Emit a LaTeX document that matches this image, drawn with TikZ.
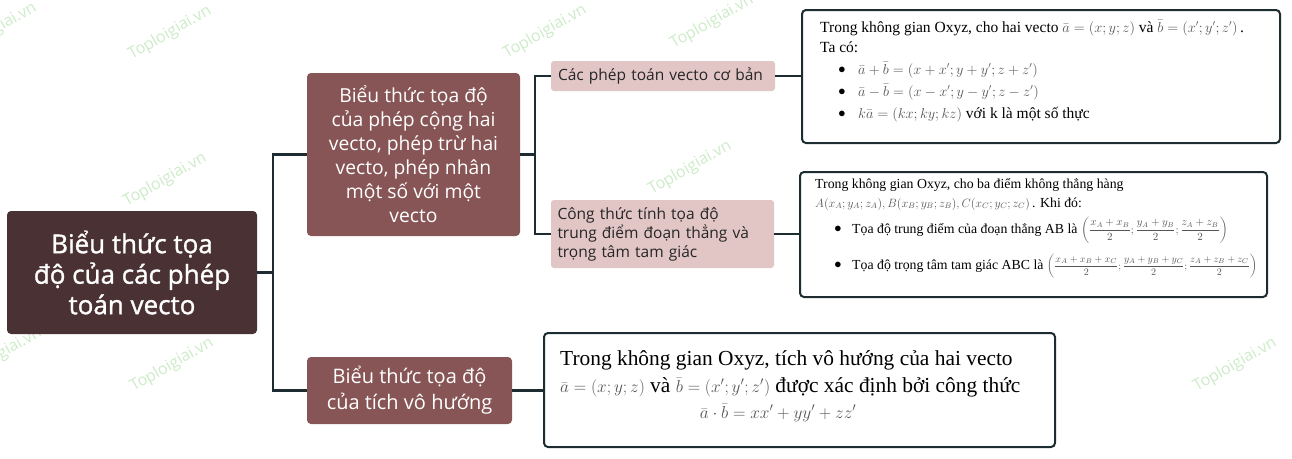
\documentclass[tikz,border=0pt]{standalone}
\usepackage{amsmath}
\usepackage{fontspec}
\setmainfont{Liberation Serif}
\newfontfamily\osans{Open Sans}
\newfontfamily\osansb{Open Sans}[FakeBold=1.2]
\definecolor{rootc}{HTML}{4A3133}
\definecolor{midc}{HTML}{875556}
\definecolor{pinkc}{HTML}{E2C5C5}
\definecolor{linec}{HTML}{1D2C31}
\definecolor{wmc}{HTML}{CDEBC8}
\definecolor{mathc}{HTML}{555555}
\tikzset{
  rootbox/.style={fill=rootc, rounded corners=4pt, text=white, align=center, font=\osansb\fontsize{26}{30.5}\selectfont},
  midbox/.style={fill=midc, rounded corners=4pt, text=white, align=center, font=\osans\fontsize{19.3}{24}\selectfont},
  pinkbox/.style={fill=pinkc, rounded corners=3pt, text=black!85, align=left, text width=210pt, font=\osans\fontsize{15.5}{19}\selectfont},
  infobox/.style={draw=linec, line width=2pt, fill=white, rounded corners=4pt},
  conn/.style={draw=linec, line width=2.4pt},
  wm/.style={text=wmc, rotate=30, font=\osans\fontsize{16}{16}\selectfont},
  txt/.style={anchor=base west, inner sep=0pt},
  bul/.style={anchor=center, inner sep=0pt, font=\fontsize{15}{15}\selectfont}
}
\newcommand{\vb}[1]{\bar{#1}}
\newcommand{\mth}[1]{\textcolor{mathc}{#1}}
\begin{document}
\begin{tikzpicture}[x=1pt,y=-1pt]
\useasboundingbox (0,0) rectangle (1292,458);
% watermarks
\node[wm] (w1) at (-5,30) {Toploigiai.vn};
\node[wm] (w2) at (170,33) {Toploigiai.vn};
\node[wm] (w3) at (545,32) {Toploigiai.vn};
\node[wm] (w4) at (712,22) {Toploigiai.vn};
\node[wm] (w5) at (165,180) {Toploigiai.vn};
\node[wm] (w6) at (690,168) {Toploigiai.vn};
\node[wm] (w7) at (0,355) {Toploigiai.vn};
\node[wm] (w8) at (172,365) {Toploigiai.vn};
\node[wm] (w9) at (1235,365) {Toploigiai.vn};

% main nodes
\node[rootbox, minimum width=250pt, minimum height=123pt] (root) at (132,272.5)
  {Biểu thức tọa\\độ của các phép\\toán vecto};
\node[midbox, minimum width=213pt, minimum height=163pt] (n1) at (413.5,154.5)
  {Biểu thức tọa độ\\của phép cộng hai\\vecto, phép trừ hai\\vecto, phép nhân\\một số với một\\vecto};
\node[midbox, font=\osans\fontsize{20}{26}\selectfont, minimum width=205pt, minimum height=67pt] (n3) at (409.5,390.5)
  {Biểu thức tọa độ\\của tích vô hướng};
\node[pinkbox, minimum width=224pt, minimum height=30pt, inner sep=5pt] (nA) at (663,76)
  {Các phép toán vecto cơ bản};
\node[pinkbox, minimum width=223pt, minimum height=68pt, inner sep=5pt] (nB) at (662.5,234)
  {Công thức tính tọa độ\\trung điểm đoạn thẳng và\\trọng tâm tam giác};

% info boxes
\node[infobox, minimum width=478pt, minimum height=133pt] (b1) at (1041,76.5) {};
\node[infobox, minimum width=467pt, minimum height=125pt] (b2) at (1033.5,234.5) {};
\node[infobox, minimum width=511pt, minimum height=114pt] (b3) at (799.5,390) {};

% connectors
\coordinate (j1) at (273,272.5);
\coordinate (j2) at (535,154.5);
\draw[conn] (root.east) -- (j1);
\draw[conn] (j1) |- (n1.west);
\draw[conn] (j1) |- (n3.west);
\draw[conn] (n1.east) -- (j2);
\draw[conn] (j2) |- (nA.west);
\draw[conn] (j2) |- (nB.west);
\draw[conn] (nA.east) -- (nA.east -| b1.west);
\draw[conn] (nB.east) -- (nB.east -| b2.west);
\draw[conn] (n3.east) -- (n3.east -| b3.west);

% box 1 content
\begin{scope}[font=\fontsize{15.5}{18}\selectfont]
\node[txt] (t11) at (820,32) {Trong không gian Oxyz, cho hai vecto {\fontsize{13.5}{16}\selectfont\mth{$\vb{a}=(x;y;z)$}} và {\fontsize{13.5}{16}\selectfont\mth{$\vb{b}=(x';y';z')$}}\,.};
\node[txt] (t12) at (820,52) {Ta có:};
\node[bul] (d1) at (842,70) {$\bullet$};
\node[txt, font=\fontsize{13.5}{16}\selectfont] (t13) at (858,74) {\mth{$\vb{a}+\vb{b}=(x+x';y+y';z+z')$}};
\node[bul] (d2) at (842,92) {$\bullet$};
\node[txt, font=\fontsize{13.5}{16}\selectfont] (t14) at (858,96) {\mth{$\vb{a}-\vb{b}=(x-x';y-y';z-z')$}};
\node[bul] (d3) at (842,114) {$\bullet$};
\node[txt] (t15) at (858,118) {{\fontsize{13.5}{16}\selectfont\mth{$k\vb{a}=(kx;ky;kz)$}} với k là một số thực};
\end{scope}

% box 2 content
\begin{scope}[font=\fontsize{13.8}{16}\selectfont]
\node[txt] (t21) at (815,188) {Trong không gian Oxyz, cho ba điểm không thẳng hàng};
\node[txt] (t22) at (815,207) {{\fontsize{12}{14}\selectfont\mth{$A(x_A;y_A;z_A),B(x_B;y_B;z_B),C(x_C;y_C;z_C)$}}\,. Khi đó:};
\node[bul] (d4) at (838,229) {$\bullet$};
\node[txt] (t23) at (852,233) {Tọa độ trung điểm của đoạn thẳng AB là {\fontsize{10.5}{13}\selectfont\mth{$\left(\dfrac{x_A+x_B}{2};\dfrac{y_A+y_B}{2};\dfrac{z_A+z_B}{2}\right)$}}};
\node[bul] (d5) at (838,265) {$\bullet$};
\node[txt] (t24) at (852,269) {Tọa độ trọng tâm tam giác ABC là {\fontsize{10}{13}\selectfont\mth{$\left(\dfrac{x_A+x_B+x_C}{2};\dfrac{y_A+y_B+y_C}{2};\dfrac{z_A+z_B+z_C}{2}\right)$}}};
\end{scope}

% box 3 content
\begin{scope}[font=\fontsize{21.4}{25}\selectfont]
\node[txt] (t31) at (560,365) {Trong không gian Oxyz, tích vô hướng của hai vecto};
\node[txt] (t32) at (560,392) {{\fontsize{17}{20}\selectfont\mth{$\vb{a}=(x;y;z)$}} và {\fontsize{17}{20}\selectfont\mth{$\vb{b}=(x';y';z')$}} được xác định bởi công thức};
\node[anchor=base, inner sep=0pt, font=\fontsize{17.3}{20}\selectfont] (t33) at (778,418) {\mth{$\vb{a}\cdot\vb{b}=xx'+yy'+zz'$}};
\end{scope}
\end{tikzpicture}
\end{document}
